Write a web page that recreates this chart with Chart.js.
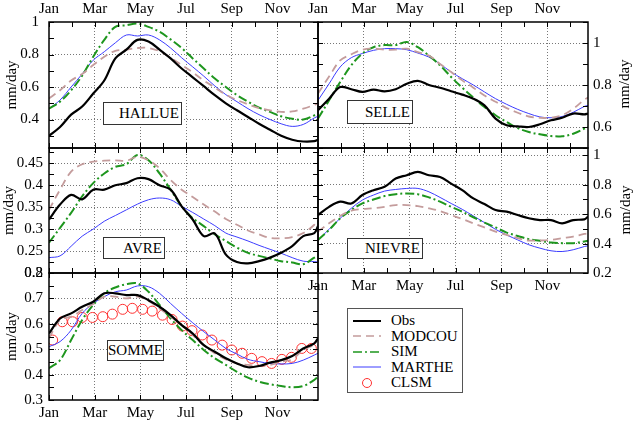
<!DOCTYPE html>
<html>
<head>
<meta charset="utf-8">
<script src="https://cdn.jsdelivr.net/npm/chart.js@4.4.3/dist/chart.umd.min.js"></script>
<style>
    body { margin: 0; background: #fff; font-family: "Liberation Serif", serif; }
    #contenedor { position: relative; width: 633px; height: 421px; overflow: hidden; }
    #contenedor canvas { position: absolute; left: 0; top: 0; }
    .etiqueta { position: absolute; box-sizing: border-box; border: 1px solid #333; background: #fff;
        font-size: 15px; text-align: right; padding-right: 2px; color: #000; }
    .titulo-der { position: absolute; font-size: 15px; transform: translate(-50%, -50%) rotate(-90deg); white-space: nowrap; }
    #leyenda { position: absolute; left: 347px; top: 308px; width: 116px; height: 85px; box-sizing: border-box;
        border: 1px solid #555; background: #fff; padding-top: 4px; font-size: 15px; }
    #leyenda div { height: 15.5px; line-height: 15.5px; display: flex; align-items: center; }
    #leyenda svg { margin-left: 5px; margin-right: 10px; }
</style>
</head>
<body>
<div id="contenedor">
    <div class="etiqueta" style="left:103px;top:102px;width:79px;height:23px;line-height:21px">HALLUE</div>
    <div class="etiqueta" style="left:347px;top:100px;width:66px;height:24px;line-height:22px">SELLE</div>
    <div class="etiqueta" style="left:103px;top:237px;width:62px;height:22px;line-height:20px">AVRE</div>
    <div class="etiqueta" style="left:347px;top:238px;width:76px;height:21px;line-height:19px">NIEVRE</div>
    <div class="etiqueta" style="left:107px;top:340px;width:57px;height:21px;line-height:19px;padding-right:0">SOMME</div>
    <div class="titulo-der" style="left:624px;top:84px">mm/day</div>
    <div class="titulo-der" style="left:625px;top:210px">mm/day</div>
    <div id="leyenda">
        <div><svg width="28" height="6"><line x1="0" y1="3" x2="28" y2="3" stroke="#000" stroke-width="2"/></svg>Obs</div>
        <div><svg width="28" height="6"><line x1="0" y1="3" x2="28" y2="3" stroke="#c49c9c" stroke-width="1.6" stroke-dasharray="8,5"/></svg>MODCOU</div>
        <div><svg width="28" height="6"><line x1="0" y1="3" x2="28" y2="3" stroke="#1e961e" stroke-width="1.6" stroke-dasharray="9,3,2,3"/></svg>SIM</div>
        <div><svg width="28" height="6"><line x1="0" y1="3" x2="28" y2="3" stroke="#3c3cff" stroke-width="1"/></svg>MARTHE</div>
        <div><svg width="28" height="12"><circle cx="14" cy="6" r="4.5" fill="none" stroke="#ff3030" stroke-width="1"/></svg>CLSM</div>
    </div>
</div>
<script>
// Días del año en los que se leyó cada curva
const dias = [0, 15, 30, 45, 60, 75, 90, 105, 120, 135, 150, 165, 180, 195, 210, 225, 240, 255, 270, 285, 300, 315, 330, 345, 360, 365];
const meses = ['Jan', 'Feb', 'Mar', 'Apr', 'May', 'Jun', 'Jul', 'Aug', 'Sep', 'Oct', 'Nov', 'Dec'];

// HALLUE
const hallueObs = [0.30, 0.354, 0.43, 0.48, 0.56, 0.64, 0.776, 0.83, 0.89, 0.88, 0.83, 0.776, 0.714, 0.66, 0.605, 0.55, 0.50, 0.457, 0.416, 0.374, 0.337, 0.30, 0.276, 0.265, 0.267, 0.276];
const hallueModcou = [0.53, 0.58, 0.64, 0.68, 0.735, 0.786, 0.823, 0.83, 0.84, 0.84, 0.82, 0.78, 0.735, 0.69, 0.64, 0.597, 0.553, 0.52, 0.494, 0.47, 0.457, 0.447, 0.45, 0.467, 0.49, 0.50];
const hallueSim = [0.467, 0.51, 0.58, 0.67, 0.786, 0.89, 0.97, 0.98, 0.99, 0.97, 0.94, 0.893, 0.84, 0.776, 0.714, 0.652, 0.60, 0.55, 0.51, 0.473, 0.447, 0.42, 0.405, 0.40, 0.426, 0.436];
const hallueMarthe = [0.467, 0.52, 0.60, 0.68, 0.765, 0.817, 0.872, 0.92, 0.914, 0.92, 0.89, 0.84, 0.78, 0.724, 0.667, 0.607, 0.553, 0.51, 0.467, 0.43, 0.40, 0.374, 0.358, 0.37, 0.41, 0.42];

// SELLE
const selleObs = [0.68, 0.735, 0.79, 0.78, 0.767, 0.778, 0.77, 0.78, 0.806, 0.82, 0.80, 0.787, 0.77, 0.754, 0.735, 0.703, 0.64, 0.608, 0.603, 0.60, 0.613, 0.632, 0.644, 0.664, 0.66, 0.664];
const selleModcou = [0.76, 0.84, 0.917, 0.946, 0.968, 0.973, 0.968, 0.968, 0.973, 0.957, 0.94, 0.90, 0.862, 0.822, 0.787, 0.75, 0.72, 0.69, 0.668, 0.65, 0.644, 0.644, 0.656, 0.687, 0.73, 0.74];
const selleSim = [0.64, 0.727, 0.814, 0.894, 0.95, 0.98, 0.99, 0.99, 1.005, 0.98, 0.94, 0.894, 0.838, 0.787, 0.74, 0.695, 0.656, 0.624, 0.595, 0.576, 0.565, 0.557, 0.556, 0.568, 0.592, 0.60];
const selleMarthe = [0.727, 0.806, 0.886, 0.93, 0.95, 0.965, 0.973, 0.973, 0.968, 0.952, 0.933, 0.90, 0.862, 0.83, 0.80, 0.767, 0.735, 0.708, 0.684, 0.664, 0.648, 0.644, 0.65, 0.67, 0.698, 0.703];

// AVRE
const avreObs = [0.322, 0.356, 0.378, 0.368, 0.39, 0.39, 0.40, 0.405, 0.416, 0.414, 0.40, 0.39, 0.352, 0.322, 0.284, 0.29, 0.242, 0.225, 0.222, 0.227, 0.235, 0.246, 0.261, 0.284, 0.291, 0.307];
const avreModcou = [0.344, 0.39, 0.431, 0.448, 0.454, 0.456, 0.457, 0.456, 0.465, 0.457, 0.439, 0.412, 0.39, 0.373, 0.356, 0.34, 0.323, 0.31, 0.297, 0.288, 0.28, 0.279, 0.282, 0.291, 0.31, 0.322];
const avreSim = [0.269, 0.303, 0.337, 0.375, 0.405, 0.427, 0.442, 0.448, 0.469, 0.457, 0.427, 0.39, 0.352, 0.325, 0.307, 0.288, 0.273, 0.258, 0.246, 0.239, 0.233, 0.227, 0.224, 0.22, 0.235, 0.239];
const avreMarthe = [0.235, 0.239, 0.261, 0.284, 0.30, 0.318, 0.331, 0.344, 0.357, 0.367, 0.371, 0.367, 0.352, 0.338, 0.323, 0.308, 0.291, 0.282, 0.273, 0.263, 0.254, 0.245, 0.235, 0.227, 0.226, 0.225];

// NIEVRE
const nievreObs = [0.594, 0.65, 0.685, 0.673, 0.73, 0.763, 0.786, 0.842, 0.865, 0.887, 0.865, 0.853, 0.808, 0.763, 0.707, 0.669, 0.628, 0.617, 0.594, 0.572, 0.56, 0.56, 0.538, 0.56, 0.565, 0.583];
const nievreModcou = [0.482, 0.538, 0.588, 0.624, 0.635, 0.64, 0.65, 0.662, 0.662, 0.655, 0.64, 0.621, 0.594, 0.567, 0.538, 0.51, 0.482, 0.459, 0.437, 0.421, 0.421, 0.425, 0.437, 0.448, 0.466, 0.47];
const nievreSim = [0.425, 0.493, 0.572, 0.628, 0.673, 0.70, 0.723, 0.736, 0.741, 0.736, 0.714, 0.685, 0.65, 0.617, 0.579, 0.543, 0.51, 0.475, 0.452, 0.43, 0.419, 0.407, 0.403, 0.403, 0.414, 0.419];
const nievreMarthe = [0.425, 0.497, 0.572, 0.64, 0.696, 0.73, 0.757, 0.768, 0.775, 0.775, 0.752, 0.714, 0.673, 0.633, 0.588, 0.543, 0.497, 0.459, 0.425, 0.392, 0.369, 0.351, 0.346, 0.358, 0.38, 0.385];

// SOMME
const sommeObs = [0.562, 0.621, 0.641, 0.667, 0.687, 0.72, 0.72, 0.713, 0.713, 0.693, 0.667, 0.634, 0.595, 0.562, 0.516, 0.49, 0.464, 0.444, 0.429, 0.434, 0.447, 0.457, 0.473, 0.503, 0.523, 0.543];
const sommeModcou = [0.543, 0.615, 0.628, 0.654, 0.678, 0.707, 0.707, 0.70, 0.707, 0.69, 0.66, 0.628, 0.595, 0.556, 0.516, 0.484, 0.46, 0.444, 0.438, 0.434, 0.438, 0.451, 0.46, 0.497, 0.516, 0.516];
const sommeSim = [0.425, 0.457, 0.536, 0.615, 0.674, 0.72, 0.743, 0.756, 0.759, 0.726, 0.674, 0.621, 0.575, 0.536, 0.497, 0.464, 0.438, 0.411, 0.388, 0.372, 0.362, 0.355, 0.35, 0.355, 0.379, 0.392];
const sommeMarthe = [0.51, 0.53, 0.575, 0.641, 0.68, 0.707, 0.726, 0.733, 0.749, 0.746, 0.72, 0.68, 0.641, 0.604, 0.569, 0.536, 0.503, 0.481, 0.46, 0.451, 0.444, 0.442, 0.444, 0.457, 0.477, 0.484];
const clsmDias = [5, 18, 32, 45, 59, 73, 86, 100, 113, 127, 140, 154, 167, 181, 194, 208, 221, 235, 248, 262, 275, 289, 302, 316, 329, 343, 356];
const sommeClsm = [0.536, 0.608, 0.608, 0.625, 0.625, 0.628, 0.638, 0.657, 0.661, 0.657, 0.65, 0.634, 0.617, 0.591, 0.573, 0.556, 0.536, 0.516, 0.497, 0.484, 0.464, 0.451, 0.444, 0.46, 0.468, 0.503, 0.503];

const ANCHO = 633, ALTO = 421;
const fuente = { family: 'Liberation Serif', size: 15 };

// Marco del panel y marcas de graduación hacia adentro en los cuatro lados
const marco = {
    id: 'marco',
    afterDraw(chart) {
        const { ctx, chartArea: a, scales: { x, y } } = chart;
        ctx.save();
        ctx.strokeStyle = '#000';
        ctx.lineWidth = 1;
        ctx.beginPath();
        x.ticks.forEach(t => {
            const px = Math.round(x.getPixelForValue(t.value)) + 0.5;
            ctx.moveTo(px, a.top); ctx.lineTo(px, a.top + 5);
            ctx.moveTo(px, a.bottom); ctx.lineTo(px, a.bottom - 5);
        });
        y.ticks.forEach(t => {
            const py = Math.round(y.getPixelForValue(t.value)) + 0.5;
            ctx.moveTo(a.left, py); ctx.lineTo(a.left + 5, py);
            ctx.moveTo(a.right, py); ctx.lineTo(a.right - 5, py);
        });
        ctx.stroke();
        ctx.lineWidth = 1.5;
        ctx.strokeRect(a.left, a.top, a.right - a.left, a.bottom - a.top);
        ctx.restore();
    }
};

function serie(label, valores, estilo, xs = dias) {
    return {
        label,
        data: valores.map((v, i) => ({ x: xs[i], y: v })),
        pointRadius: 0,
        tension: 0.35,
        fill: false,
        ...estilo
    };
}

const estilos = {
    obs: { borderColor: '#000', borderWidth: 2.2 },
    modcou: { borderColor: '#c49c9c', borderWidth: 1.8, borderDash: [8, 5] },
    sim: { borderColor: '#1e961e', borderWidth: 2, borderDash: [9, 3, 2, 3] },
    marthe: { borderColor: '#3c3cff', borderWidth: 1 },
    clsm: { showLine: false, pointRadius: 5, pointStyle: 'circle', pointBorderColor: '#ff3030', pointBackgroundColor: 'rgba(0,0,0,0)', pointBorderWidth: 1, borderColor: '#ff3030' }
};

const casi = (a, b) => Math.abs(a - b) < 1e-6;
const esMultiplo = (v, paso) => casi(v / paso, Math.round(v / paso));

function crearPanel(p) {
    const lienzo = document.createElement('canvas');
    lienzo.width = ANCHO;
    lienzo.height = ALTO;
    document.getElementById('contenedor').prepend(lienzo);

    const a = p.area;
    const izq = p.ejeY === 'left';
    const yw = izq ? 49 : 45;
    const arriba = p.ejeX === 'top';
    const xh = arriba ? a.t : (p.etiquetasX ? 22 : 0);

    const padding = {
        left: izq ? a.l - yw : a.l,
        right: izq ? ANCHO - a.r : ANCHO - a.r - yw,
        top: arriba ? a.t - xh : a.t,
        bottom: arriba ? ALTO - a.b : ALTO - a.b - xh
    };

    new Chart(lienzo, {
        type: 'line',
        data: { datasets: p.series },
        plugins: [marco],
        options: {
            responsive: false,
            animation: false,
            devicePixelRatio: 1,
            layout: { padding },
            plugins: { legend: { display: false }, tooltip: { enabled: false } },
            scales: {
                x: {
                    type: 'linear',
                    position: p.ejeX,
                    min: 0,
                    max: 365,
                    afterFit: s => { s.height = xh; },
                    afterBuildTicks: s => {
                        s.ticks = meses.map((m, k) => ({ value: k * 31 }));
                    },
                    ticks: {
                        display: p.etiquetasX,
                        autoSkip: false,
                        maxRotation: 0,
                        padding: 4,
                        color: '#000',
                        font: fuente,
                        callback: v => {
                            const k = Math.round(v / 31);
                            return k % 2 === 0 ? meses[k] : '';
                        }
                    },
                    grid: {
                        drawTicks: false,
                        lineWidth: 1,
                        color: c => {
                            const k = Math.round(c.tick.value / 31);
                            return (k % 2 === 0 && k > 0) ? '#777' : 'rgba(0,0,0,0)';
                        }
                    },
                    border: { display: false, dash: [1, 2] }
                },
                y: {
                    type: 'linear',
                    position: p.ejeY,
                    min: p.min,
                    max: p.max,
                    afterFit: s => { s.width = yw; },
                    afterBuildTicks: s => {
                        const ticks = [];
                        for (let k = Math.ceil(p.min / p.paso - 1e-6); k * p.paso <= p.max + 1e-6; k++) {
                            ticks.push({ value: Math.round(k * p.paso * 1000) / 1000 });
                        }
                        s.ticks = ticks;
                    },
                    title: {
                        display: izq,
                        text: 'mm/day',
                        color: '#000',
                        font: fuente,
                        padding: { top: p.tituloPad || 0, bottom: 0 }
                    },
                    ticks: {
                        autoSkip: false,
                        padding: p.ticksPad,
                        color: '#000',
                        font: fuente,
                        callback: v => esMultiplo(v, p.etiquetaPaso) ? String(parseFloat(v.toFixed(3))) : ''
                    },
                    grid: {
                        drawTicks: false,
                        lineWidth: 1,
                        color: c => {
                            const v = c.tick.value;
                            if (casi(v, p.min) || casi(v, p.max)) return 'rgba(0,0,0,0)';
                            return esMultiplo(v, p.etiquetaPaso) ? '#777' : 'rgba(0,0,0,0)';
                        }
                    },
                    border: { display: false, dash: [1, 2] }
                }
            }
        }
    });
}

function cuatroSeries(obs, modcou, sim, marthe) {
    return [
        serie('Obs', obs, estilos.obs),
        serie('MODCOU', modcou, estilos.modcou),
        serie('SIM', sim, estilos.sim),
        serie('MARTHE', marthe, estilos.marthe)
    ];
}

crearPanel({
    area: { l: 49, t: 22, r: 318, b: 148 }, ejeY: 'left', ejeX: 'top', etiquetasX: true,
    min: 0.225, max: 1, paso: 0.1, etiquetaPaso: 0.2, ticksPad: 10, tituloPad: 3,
    series: cuatroSeries(hallueObs, hallueModcou, hallueSim, hallueMarthe)
});
crearPanel({
    area: { l: 318, t: 22, r: 588, b: 148 }, ejeY: 'right', ejeX: 'top', etiquetasX: true,
    min: 0.5, max: 1.1, paso: 0.1, etiquetaPaso: 0.2, ticksPad: 5,
    series: cuatroSeries(selleObs, selleModcou, selleSim, selleMarthe)
});
crearPanel({
    area: { l: 49, t: 148, r: 318, b: 273 }, ejeY: 'left', ejeX: 'bottom', etiquetasX: false,
    min: 0.2, max: 0.485, paso: 0.025, etiquetaPaso: 0.05, ticksPad: 6, tituloPad: 0,
    series: cuatroSeries(avreObs, avreModcou, avreSim, avreMarthe)
});
crearPanel({
    area: { l: 318, t: 148, r: 588, b: 273 }, ejeY: 'right', ejeX: 'bottom', etiquetasX: true,
    min: 0.2, max: 1.05, paso: 0.1, etiquetaPaso: 0.2, ticksPad: 5,
    series: cuatroSeries(nievreObs, nievreModcou, nievreSim, nievreMarthe)
});
crearPanel({
    area: { l: 49, t: 273, r: 318, b: 400 }, ejeY: 'left', ejeX: 'bottom', etiquetasX: true,
    min: 0.3, max: 0.8, paso: 0.05, etiquetaPaso: 0.1, ticksPad: 6, tituloPad: 3,
    series: [
        ...cuatroSeries(sommeObs, sommeModcou, sommeSim, sommeMarthe),
        serie('CLSM', sommeClsm, estilos.clsm, clsmDias)
    ]
});
</script>
</body>
</html>
